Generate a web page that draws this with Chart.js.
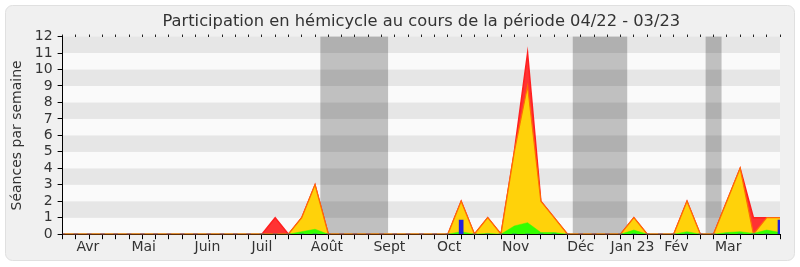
<!DOCTYPE html>
<html>
<head>
<meta charset="utf-8">
<script src="https://cdn.jsdelivr.net/npm/chart.js@4/dist/chart.umd.min.js"></script>
<style>
  html, body { margin: 0; padding: 0; background: #fff; }
  #wrap { width: 800px; height: 267px; position: relative; }
</style>
</head>
<body>
<div id="wrap"><canvas id="chart"></canvas></div>
<script>
// semaines 0..54 (du 21/03/22 au 27/03/23)
const semaines = [
  "21/03","28/03","04/04","11/04","18/04","25/04","02/05","09/05","16/05","23/05",
  "30/05","06/06","13/06","20/06","27/06","04/07","11/07","18/07","25/07","01/08",
  "08/08","15/08","22/08","29/08","05/09","12/09","19/09","26/09","03/10","10/10",
  "17/10","24/10","31/10","07/11","14/11","21/11","28/11","05/12","12/12","19/12",
  "26/12","02/01","09/01","16/01","23/01","30/01","06/02","13/02","20/02","27/02",
  "06/03","13/03","20/03","27/03","03/04"
];

const presences = [
  0,0,0,0,0,0,0,0,0,0, 0,0,0,0,0,0,1,0,1,3,
  0,0,0,0,0,0,0,0,0,0, 2,0,1,0,5,11,2,1,0,0,
  0,0,0,1,0,0,0,2,0,0, 2,4,1,1,1
];
const participations = [
  0,0,0,0,0,0,0,0,0,0, 0,0,0,0,0,0,0,0,1,3,
  0,0,0,0,0,0,0,0,0,0, 2,0,1,0,5,9,2,1,0,0,
  0,0,0,1,0,0,0,2,0,0, 2,4,0,1,1
];
const interventions = [
  0,0,0,0,0,0,0,0,0,0, 0,0,0,0,0,0,0,0,0.15,0.3,
  0,0,0,0,0,0,0,0,0,0, 0.15,0,0.05,0,0.5,0.7,0.1,0.1,0,0,
  0,0,0,0.25,0,0,0,0.15,0,0, 0.1,0.15,0.05,0.25,0.1
];
const questions = [
  0,0,0,0,0,0,0,0,0,0, 0,0,0,0,0,0,0,0,0,0,
  0,0,0,0,0,0,0,0,0,0, 0.85,0,0,0,0,0,0,0,0,0,
  0,0,0,0,0,0,0,0,0,0, 0,0,0,0,0.85
];

// vacances parlementaires (en semaines)
const vacances = [[19.4, 24.5], [38.4, 42.5], [48.4, 49.6]];

// libellés des mois
const moisLabels = ["Avr","Mai","Juin","Juil","Août","Sept","Oct","Nov","Déc","Jan 23","Fév","Mar"];
const moisPos = [1.9, 6.1, 10.9, 15.0, 19.9, 24.6, 29.1, 34.1, 39.0, 42.9, 46.2, 50.1];

const yMax = 12;
const nb = semaines.length;
const nm = moisLabels.length;

function pts(arr) {
  return arr.map((v, i) => ({ x: i, y: v }));
}

// fond : cadre arrondi, bandes horizontales, vacances
const fondPlugin = {
  id: "fond",
  beforeDraw(chart) {
    const { ctx, chartArea: a, scales } = chart;
    ctx.save();
    ctx.fillStyle = "#fff";
    ctx.fillRect(0, 0, chart.width, chart.height);
    ctx.beginPath();
    ctx.roundRect(5.5, 5.5, 789, 255, 7);
    ctx.fillStyle = "#f0f0f0";
    ctx.fill();
    ctx.strokeStyle = "#e0e0e0";
    ctx.stroke();

    const y = scales.y, x = scales.x;
    for (let v = 0; v < yMax; v++) {
      const y1 = y.getPixelForValue(v + 1), y0 = y.getPixelForValue(v);
      ctx.fillStyle = v % 2 === 0 ? "#fafafa" : "#e6e6e6";
      ctx.fillRect(a.left, y1, a.right - a.left, y0 - y1);
    }
    ctx.fillStyle = "rgba(0,0,0,0.23)";
    vacances.forEach(([d, f]) => {
      const x0 = x.getPixelForValue(d), x1 = x.getPixelForValue(f);
      ctx.fillRect(x0, a.top, x1 - x0, a.bottom - a.top);
    });
    ctx.restore();
  }
};

const police = "'DejaVu Sans', Verdana, sans-serif";

new Chart(document.getElementById("chart"), {
  data: {
    datasets: [
      {
        type: "bar",
        data: pts(questions),
        backgroundColor: "#2020dd",
        barThickness: 4,
        order: 0
      },
      {
        type: "line",
        data: pts(interventions),
        backgroundColor: "#33ff00",
        borderColor: "#33ff00",
        borderWidth: 0.5,
        fill: "origin",
        pointRadius: 0,
        tension: 0,
        order: 1
      },
      {
        type: "line",
        data: pts(participations),
        backgroundColor: "#ffd20a",
        borderColor: "#ff7000",
        borderWidth: 1.2,
        fill: "origin",
        pointRadius: 0,
        tension: 0,
        order: 2
      },
      {
        type: "line",
        data: pts(presences),
        backgroundColor: "#ff3333",
        borderColor: "#ff2020",
        borderWidth: 1.5,
        fill: "origin",
        pointRadius: 0,
        tension: 0,
        order: 3
      }
    ]
  },
  options: {
    responsive: true,
    maintainAspectRatio: false,
    animation: false,
    events: [],
    layout: { padding: { left: 9, right: 20, top: 0, bottom: 11 } },
    plugins: {
      legend: { display: false },
      tooltip: { enabled: false },
      title: {
        display: true,
        fullSize: false,
        text: "Participation en hémicycle au cours de la période 04/22 - 03/23",
        color: "#333",
        font: { family: police, size: 16.3, weight: "normal" },
        padding: { top: 12, bottom: 3 }
      }
    },
    scales: {
      x: {
        type: "linear",
        min: 0,
        max: nb - 1,
        offset: false,
        afterBuildTicks(axis) {
          // mois d'abord, semaines ensuite (la dernière graduation n'a pas de libellé)
          const t = moisPos.map((p) => ({ value: p }));
          semaines.forEach((s, i) => t.push({ value: i }));
          axis.ticks = t;
        },
        ticks: {
          autoSkip: false,
          maxRotation: 0,
          padding: 0,
          color: "#333",
          font: { family: police, size: 14 },
          callback: (v, i) => (i < nm ? moisLabels[i] : "")
        },
        grid: {
          offset: false,
          drawOnChartArea: false,
          tickLength: 5,
          tickColor: (c) => (c.index < nm ? "rgba(0,0,0,0)" : "#000")
        },
        border: { color: "#000" }
      },
      xTop: {
        type: "linear",
        position: "top",
        min: 0,
        max: nb - 1,
        offset: false,
        ticks: { stepSize: 1, display: false },
        grid: { offset: false, drawOnChartArea: false, tickLength: 2, tickColor: "#222" },
        border: { display: false }
      },
      y: {
        min: 0,
        max: yMax,
        ticks: {
          stepSize: 1,
          autoSkip: false,
          padding: 5,
          color: "#333",
          font: { family: police, size: 14 }
        },
        grid: { drawOnChartArea: false, tickLength: 5, tickColor: "#000" },
        border: { color: "#000" },
        title: {
          display: true,
          text: "Séances par semaine",
          color: "#333",
          font: { family: police, size: 14 },
          padding: { top: 0, bottom: 4 }
        }
      }
    }
  },
  plugins: [fondPlugin]
});
</script>
</body>
</html>
